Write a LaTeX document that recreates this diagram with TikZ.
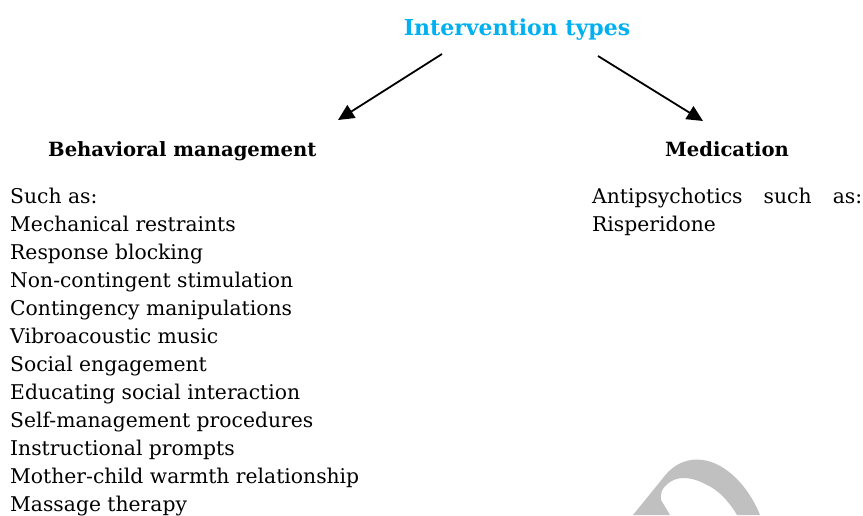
\documentclass[tikz,border=0pt]{standalone}
\usepackage{fontspec}
\setmainfont{DejaVu Serif}
\usetikzlibrary{arrows.meta}
\definecolor{titleblue}{RGB}{0,176,240}
\definecolor{wmgray}{RGB}{192,192,192}
\begin{document}
\begin{tikzpicture}[x=1pt,y=-1pt,
  body/.style={inner sep=0pt,anchor=base west,font=\fontsize{20.3}{22}\selectfont},
  head/.style={inner sep=0pt,anchor=base west,font=\fontsize{19.6}{22}\selectfont\bfseries},
  conn/.style={line width=1.8pt,-{Triangle[length=16pt,width=15pt]}}]
\useasboundingbox (0,0) rectangle (863,515);
% watermark
\fill[wmgray] (633,515) -- (663,478) .. controls (675,462) and (690,458) .. (703,460)
  .. controls (725,463) and (748,485) .. (760,515) -- (737,515)
  .. controls (728,500) and (718,490) .. (707,485)
  .. controls (695,478) and (680,475) .. (670,482)
  .. controls (661,488) and (660,495) .. (661,500) -- (670,515) -- cycle;
\node[inner sep=0pt,anchor=base,font=\fontsize{22}{24}\selectfont\bfseries,text=titleblue] (title) at (517,35) {Intervention types};
\node[head] (beh) at (48,156) {Behavioral management};
\node[head] (med) at (665,156) {Medication};
\coordinate (a1s) at (442,54);
\coordinate (a1e) at (338,120);
\coordinate (a2s) at (598,56);
\coordinate (a2e) at (703,121);
\draw[conn] (a1s) -- (a1e);
\draw[conn] (a2s) -- (a2e);
\foreach \t [count=\i] in {Such as:,Mechanical restraints,Response blocking,Non-contingent stimulation,Contingency manipulations,Vibroacoustic music,Social engagement,Educating social interaction,Self-management procedures,Instructional prompts,Mother-child warmth relationship,Massage therapy}
  \node[body] (l\i) at (10,{203+28*(\i-1)}) {\t};
\node[body] (r1) at (592,203) {\makebox[270pt][l]{Antipsychotics\hfill such\hfill as:}};
\node[body] (r2) at (592,231) {Risperidone};
\end{tikzpicture}
\end{document}
